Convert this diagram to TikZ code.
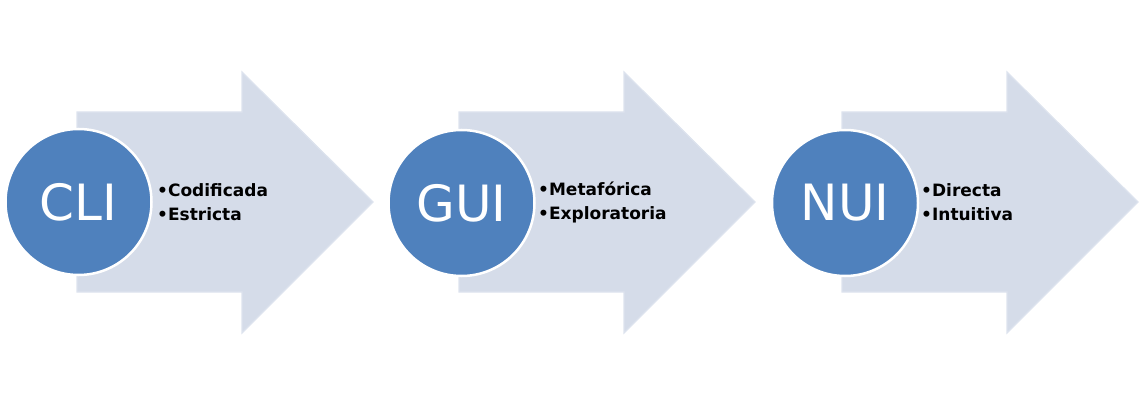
\documentclass[tikz,border=0pt]{standalone}
\usepackage{fontspec}
\setmainfont{DejaVu Sans}
\definecolor{arrowfill}{HTML}{D5DCE9}
\definecolor{arrowline}{HTML}{DDE3EE}
\definecolor{discblue}{HTML}{4F81BD}

\begin{document}
\begin{tikzpicture}
  [x=1pt,y=-1pt,
   stage/.style={fill=arrowfill,draw=arrowline,line width=1.2pt,line join=miter},
   disc/.style={circle,fill=discblue,draw=white,line width=2.5pt,minimum size=146pt,inner sep=0pt,
                text=white,font=\fontsize{50}{50}\selectfont},
   points/.style={anchor=west,align=left,inner sep=0pt,font=\fontsize{17}{24}\selectfont\bfseries}]
  \useasboundingbox (0,0) rectangle (1141,406);

  % arrows
  \draw[stage] (77,112) -- (242,112) -- (242,72) -- (373,202) -- (242,333) -- (242,292) -- (77,292) -- cycle;
  \draw[stage] (459,112) -- (624,112) -- (624,72) -- (755,202) -- (624,333) -- (624,292) -- (459,292) -- cycle;
  \draw[stage] (842,112) -- (1007,112) -- (1007,72) -- (1138,202) -- (1007,333) -- (1007,292) -- (842,292) -- cycle;

  % circles
  \node[disc] (cli) at (78.5,202) {CLI};
  \node[disc] (gui) at (461.5,203) {GUI};
  \node[disc] (nui) at (845,203) {NUI};

  % bullet lists
  \node[points] (clitext) at (157,202) {•Codificada\\•Estricta};
  \node[points] (guitext) at (538,202) {•Metafórica\\•Exploratoria};
  \node[points] (nuitext) at (921,202) {•Directa\\•Intuitiva};

\end{tikzpicture}
\end{document}
